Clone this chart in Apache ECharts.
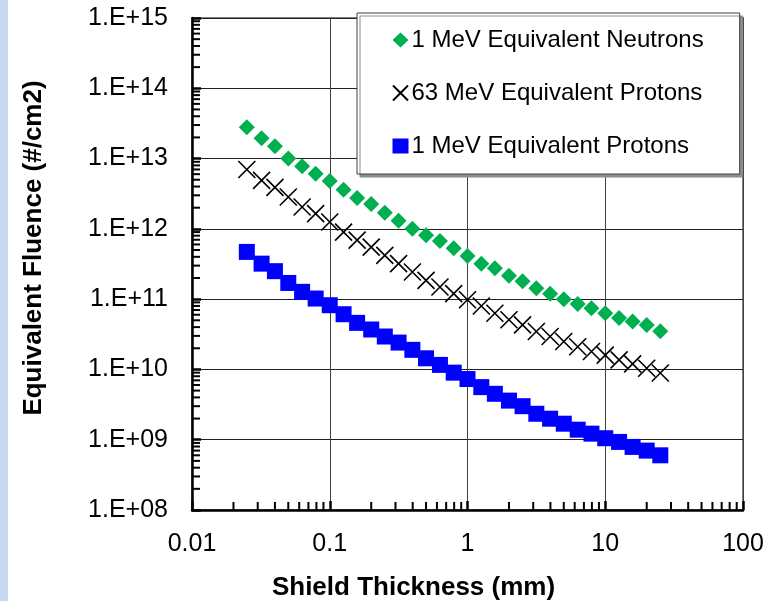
<!DOCTYPE html>
<html>
<head>
<meta charset="utf-8">
<script src="https://cdn.jsdelivr.net/npm/echarts@6/dist/echarts.min.js"></script>
<style>
  html, body { margin: 0; padding: 0; background: #fff; }
  #chart { width: 774px; height: 601px; }
</style>
</head>
<body>
<div id="chart"></div>
<script>
// shield thickness (mm)
const thickness = [0.025, 0.032, 0.04, 0.05, 0.063, 0.079, 0.1, 0.126, 0.158, 0.2, 0.251,
  0.316, 0.398, 0.5, 0.631, 0.794, 1, 1.26, 1.58, 2, 2.51, 3.16, 3.98, 5, 6.31, 7.94,
  10, 12.6, 15.8, 20, 25.1]

// equivalent fluence (#/cm2)
const neutrons1MeV = [2.8e13, 1.95e13, 1.5e13, 1.0e13, 7.8e12, 6.1e12, 4.8e12, 3.6e12,
  2.75e12, 2.25e12, 1.7e12, 1.3e12, 1.0e12, 8.1e11, 6.7e11, 5.3e11, 4.1e11, 3.2e11,
  2.75e11, 2.15e11, 1.8e11, 1.43e11, 1.19e11, 1.0e11, 8.5e10, 7.4e10, 6.3e10, 5.4e10,
  4.8e10, 4.3e10, 3.5e10]
const protons63MeV = [7.0e12, 4.9e12, 3.9e12, 2.84e12, 2.05e12, 1.65e12, 1.25e12, 9.0e11,
  6.9e11, 5.5e11, 4.2e11, 3.2e11, 2.43e11, 1.85e11, 1.49e11, 1.2e11, 9.8e10, 8.0e10,
  6.3e10, 5.1e10, 4.3e10, 3.46e10, 2.94e10, 2.5e10, 2.1e10, 1.8e10, 1.6e10, 1.37e10,
  1.2e10, 1.04e10, 8.9e9]
const protons1MeV = [4.7e11, 3.2e11, 2.5e11, 1.7e11, 1.27e11, 1.02e11, 8.2e10, 6.1e10,
  4.6e10, 3.7e10, 2.94e10, 2.41e10, 1.9e10, 1.44e10, 1.16e10, 9.0e9, 7.3e9, 5.6e9,
  4.5e9, 3.6e9, 3.0e9, 2.34e9, 1.99e9, 1.69e9, 1.39e9, 1.22e9, 1.05e9, 9.3e8, 7.9e8,
  7.0e8, 6.0e8]

const seriesNames = ['1 MeV Equivalent Neutrons', '63 MeV Equivalent Protons', '1 MeV Equivalent Protons']

// decades that get minor ticks
const xDecades = [-2, -1, 0, 1]
const yDecades = [8, 9, 10, 11, 12, 13, 14]

const FONT = 'Liberation Sans, Arial, sans-serif'
const X_MARK = 'path://M0,0L10,10M10,0L0,10'

function pairs(ys) {
  return thickness.map((x, i) => [x, ys[i]])
}

// minor ticks at 2..9 x 10^k
function minorValues(decades) {
  const out = []
  decades.forEach(k => {
    for (let m = 2; m <= 9; m++) out.push(m * Math.pow(10, k))
  })
  return out
}

const chart = echarts.init(document.getElementById('chart'))

const bgStrip = { type: 'rect', left: 0, top: 0, shape: { width: 8, height: 601 }, style: { fill: '#c6d9f1' }, z: -10 }

const option = {
  backgroundColor: '#fff',
  animation: false,
  textStyle: { fontFamily: FONT },
  grid: {
    left: 192, right: 31, top: 18, bottom: 91,
    show: true,
    backgroundColor: '#fff',
    borderColor: '#808080',
    borderWidth: 2,
    outerBoundsMode: 'none'
  },
  legend: {
    data: seriesNames,
    orient: 'vertical',
    left: 357,
    top: 13,
    padding: [13, 36, 14, 35],
    itemWidth: 16,
    itemHeight: 15,
    itemGap: 25,
    backgroundColor: '#fff',
    borderColor: '#404040',
    borderWidth: 1,
    shadowColor: '#8c8c8c',
    shadowOffsetX: 3,
    shadowOffsetY: 3,
    shadowBlur: 0,
    textStyle: { fontFamily: FONT, fontSize: 24, color: '#000', lineHeight: 28, padding: [0, 0, 0, -2] }
  },
  xAxis: {
    type: 'log',
    logBase: 10,
    min: 0.01,
    max: 100,
    splitNumber: 4,
    name: 'Shield Thickness (mm)',
    nameLocation: 'middle',
    nameGap: 65,
    nameTextStyle: { fontFamily: FONT, fontSize: 26, fontWeight: 'bold', color: '#000', padding: [0, 108, 0, 0] },
    axisLine: { show: true, onZero: false, lineStyle: { color: '#000', width: 2.5 } },
    axisTick: { show: true, inside: true, length: 9, lineStyle: { color: '#000', width: 2.5 } },
    axisLabel: {
      fontFamily: FONT, fontSize: 25, color: '#000', margin: 22,
      formatter: v => String(parseFloat(Number(v).toPrecision(3)))
    },
    splitLine: { show: true, lineStyle: { color: '#404040', width: 1 } }
  },
  yAxis: {
    type: 'log',
    logBase: 10,
    min: 1e8,
    max: 1e15,
    splitNumber: 7,
    name: 'Equivalent Fluence (#/cm2)',
    nameLocation: 'middle',
    nameGap: 145,
    nameTextStyle: { fontFamily: FONT, fontSize: 26, fontWeight: 'bold', color: '#000', padding: [0, 0, 0, 32] },
    axisLine: { show: true, onZero: false, lineStyle: { color: '#000', width: 2.5 } },
    axisTick: { show: true, inside: true, length: 9, lineStyle: { color: '#000', width: 2.5 } },
    axisLabel: {
      fontFamily: FONT, fontSize: 25, color: '#000', margin: 24,
      formatter: v => '1.E+' + String(Math.round(Math.log10(v))).padStart(2, '0')
    },
    splitLine: { show: true, lineStyle: { color: '#202020', width: 1 } }
  },
  series: [
    {
      name: seriesNames[0],
      type: 'scatter',
      data: pairs(neutrons1MeV),
      symbol: 'diamond',
      symbolSize: 16,
      itemStyle: { color: '#00b050', opacity: 1 },
      z: 3
    },
    {
      name: seriesNames[1],
      type: 'scatter',
      data: pairs(protons63MeV),
      symbol: X_MARK,
      symbolSize: 17,
      itemStyle: { color: 'rgba(0,0,0,0)', borderColor: '#000', borderWidth: 1.6, opacity: 1 },
      z: 3
    },
    {
      name: seriesNames[2],
      type: 'scatter',
      data: pairs(protons1MeV),
      symbol: 'rect',
      symbolSize: 16,
      itemStyle: { color: '#0000ff', opacity: 1 },
      z: 3
    }
  ]
}

chart.setOption(option)

// minor ticks, placed through the axes' own scales
const TICK = 8
const xBase = chart.convertToPixel({ yAxisIndex: 0 }, 1e8)
const yBase = chart.convertToPixel({ xAxisIndex: 0 }, 0.01)
const ticks = []
minorValues(xDecades).forEach(v => {
  const x = chart.convertToPixel({ xAxisIndex: 0 }, v)
  ticks.push({
    type: 'line', z: 100, silent: true,
    shape: { x1: x, y1: xBase, x2: x, y2: xBase - TICK },
    style: { stroke: '#000', lineWidth: 2 }
  })
})
minorValues(yDecades).forEach(v => {
  const y = chart.convertToPixel({ yAxisIndex: 0 }, v)
  ticks.push({
    type: 'line', z: 100, silent: true,
    shape: { x1: yBase, y1: y, x2: yBase + TICK, y2: y },
    style: { stroke: '#000', lineWidth: 2 }
  })
})

chart.setOption({ graphic: [bgStrip].concat(ticks) })
</script>
</body>
</html>
